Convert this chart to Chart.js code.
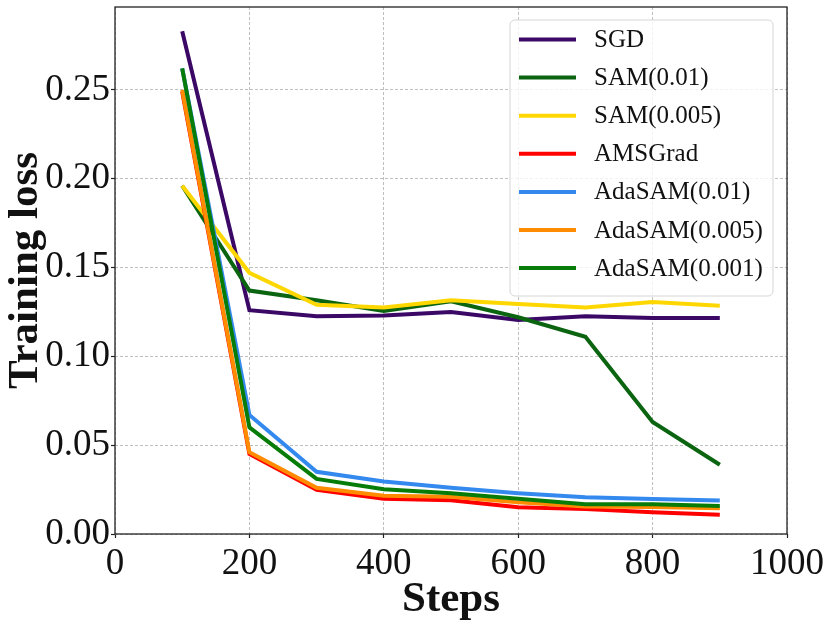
<!DOCTYPE html>
<html>
<head>
<meta charset="utf-8">
<script src="https://cdn.jsdelivr.net/npm/chart.js@4"></script>
<style>
  html, body { margin: 0; padding: 0; background: #fff; }
  #wrap { width: 830px; height: 621px; }
</style>
</head>
<body>
<div id="wrap"><canvas id="lossChart" width="830" height="621"></canvas></div>
<script>
// values
const steps = [100, 200, 300, 400, 500, 600, 700, 800, 900];
const sgd       = [0.283, 0.126, 0.1225, 0.123, 0.125, 0.1205, 0.1225, 0.1215, 0.1215];
const sam01     = [0.196, 0.137, 0.1315, 0.1255, 0.131, 0.122, 0.111, 0.063, 0.039];
const sam005    = [0.196, 0.147, 0.129, 0.1275, 0.1315, 0.1295, 0.1275, 0.1305, 0.1285];
const amsgrad   = [0.249, 0.045, 0.0248, 0.0198, 0.019, 0.015, 0.014, 0.0122, 0.0108];
const adasam01  = [0.262, 0.067, 0.035, 0.0295, 0.026, 0.023, 0.0207, 0.0197, 0.0188];
const adasam005 = [0.250, 0.046, 0.026, 0.0215, 0.021, 0.0178, 0.0155, 0.0152, 0.0145];
const adasam001 = [0.262, 0.060, 0.031, 0.0252, 0.023, 0.0198, 0.0167, 0.0167, 0.0158];
const labels = ['SGD', 'SAM(0.01)', 'SAM(0.005)', 'AMSGrad', 'AdaSAM(0.01)', 'AdaSAM(0.005)', 'AdaSAM(0.001)'];
const colors = ['#3b0866', '#0a6410', '#ffd700', '#ff0000', '#3389ee', '#ff8c00', '#087c08'];
const xTicks = [0, 200, 400, 600, 800, 1000];
const yTicks = [0, 0.05, 0.10, 0.15, 0.20, 0.25];

const series = [sgd, sam01, sam005, amsgrad, adasam01, adasam005, adasam001];
const SERIF = '"Liberation Serif", "DejaVu Serif", serif';

const datasets = series.map(function (vals, i) {
  return {
    label: labels[i],
    data: vals.map(function (v, j) { return { x: steps[j], y: v }; }),
    borderColor: colors[i],
    backgroundColor: colors[i],
    borderWidth: 4,
    pointRadius: 0,
    fill: false,
    tension: 0,
    order: series.length - i   // later series drawn on top, like matplotlib
  };
});

// frame around the plot + legend box inside the plot
const framePlugin = {
  id: 'frame',
  afterDatasetsDraw(chart) {
    const a = chart.chartArea, ctx = chart.ctx;
    ctx.save();
    ctx.strokeStyle = '#222';
    ctx.lineWidth = 1.3;
    ctx.strokeRect(a.left, a.top, a.right - a.left, a.bottom - a.top);

    // legend
    const bx = 510, by = 20, bw = 263, bh = 276, r = 5;
    ctx.beginPath();
    ctx.moveTo(bx + r, by);
    ctx.arcTo(bx + bw, by, bx + bw, by + bh, r);
    ctx.arcTo(bx + bw, by + bh, bx, by + bh, r);
    ctx.arcTo(bx, by + bh, bx, by, r);
    ctx.arcTo(bx, by, bx + bw, by, r);
    ctx.closePath();
    ctx.fillStyle = 'rgba(255,255,255,0.8)';
    ctx.fill();
    ctx.strokeStyle = '#d5d5d5';
    ctx.lineWidth = 1;
    ctx.stroke();

    ctx.font = '25px ' + SERIF;
    ctx.textBaseline = 'middle';
    ctx.textAlign = 'left';
    chart.data.datasets.forEach(function (ds, i) {
      const y = 39.5 + i * 38.1;
      ctx.strokeStyle = ds.borderColor;
      ctx.lineWidth = 4;
      ctx.beginPath();
      ctx.moveTo(519, y);
      ctx.lineTo(576, y);
      ctx.stroke();
      ctx.fillStyle = '#111';
      ctx.fillText(ds.label, 594, y + 1);
    });
    ctx.restore();
  }
};

const gridOpts = {
  color: '#b8b8b8', lineWidth: 0.9,
  tickColor: '#222', tickLength: 4, tickWidth: 1.2, tickBorderDash: []
};

const ctx = document.getElementById('lossChart');
const lossChart = new Chart(ctx, {
  type: 'line',
  data: { datasets: datasets },
  options: {
    responsive: false,
    animation: false,
    layout: { padding: { top: 7, right: 43, left: 0, bottom: 0 } },
    plugins: { legend: { display: false }, tooltip: { enabled: false } },
    scales: {
      x: {
        type: 'linear',
        min: 0,
        max: 1000,
        afterBuildTicks: function (scale) { scale.ticks = xTicks.map(function (v) { return { value: v }; }); },
        afterFit: function (scale) { scale.height = 87; scale.paddingLeft = 0; scale.paddingRight = 0; },
        border: { display: false, dash: [3, 2] },
        grid: gridOpts,
        ticks: {
          color: '#111', font: { family: SERIF, size: 37 }, padding: 4,
          maxRotation: 0, autoSkip: false,
          callback: function (v) { return String(v); }
        },
        title: {
          display: true, text: 'Steps', color: '#111',
          font: { family: SERIF, size: 43, weight: 'bold' }, padding: { top: 0, bottom: -5 }
        }
      },
      y: {
        type: 'linear',
        min: 0,
        max: 0.2966,
        afterBuildTicks: function (scale) { scale.ticks = yTicks.map(function (v) { return { value: v }; }); },
        afterFit: function (scale) { scale.width = 115; scale.paddingTop = 0; scale.paddingBottom = 0; },
        border: { display: false, dash: [3, 2] },
        grid: gridOpts,
        ticks: {
          color: '#111', font: { family: SERIF, size: 37 }, padding: 1,
          autoSkip: false,
          callback: function (v) { return Number(v).toFixed(2); }
        },
        title: {
          display: true, text: 'Training loss', color: '#111',
          font: { family: SERIF, size: 43, weight: 'bold' }, padding: { top: 0, bottom: 0 }
        }
      }
    }
  },
  plugins: [framePlugin]
});
</script>
</body>
</html>
